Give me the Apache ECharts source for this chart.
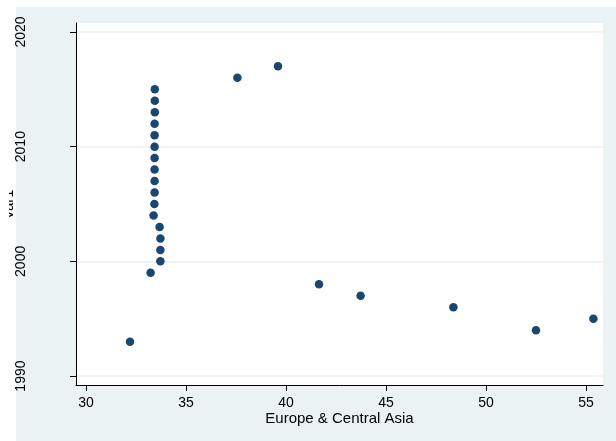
<!DOCTYPE html>
<html>
<head>
<meta charset="utf-8">
<script src="https://cdn.jsdelivr.net/npm/echarts@6/dist/echarts.min.js"></script>
<style>
html,body{margin:0;padding:0;background:#fff;}
#chart{width:616px;height:441px;}
</style>
</head>
<body>
<div id="chart"></div>
<script>
// var1 (year) values
const years = [1993,1994,1995,1996,1997,1998,1999,2000,2001,2002,2003,2004,2005,2006,2007,2008,2009,2010,2011,2012,2013,2014,2015,2016,2017];
// Europe & Central Asia values
const ecaValues = [32.2,52.5,55.37,48.37,43.73,41.65,33.23,33.72,33.72,33.72,33.68,33.38,33.42,33.43,33.43,33.43,33.43,33.43,33.43,33.43,33.44,33.44,33.44,37.57,39.6];
const xTicks = [30,35,40,45,50,55];
const yTicks = [1990,2000,2010,2020];
const xName = 'Europe & Central Asia';
const yName = 'var1';

const points = ecaValues.map((v,i)=>[v, years[i]]);
const font = 'Liberation Sans, Arial, sans-serif';

const chart = echarts.init(document.getElementById('chart'), null, {renderer:'canvas'});
chart.setOption({
  animation:false,
  backgroundColor:'#fff',
  graphic:[
    {type:'rect', z:-100, silent:true, shape:{x:16,y:7,width:600,height:434}, style:{fill:'#EAF2F3'}},
    {type:'rect', z:100, silent:true, shape:{x:0,y:180,width:9,height:50}, style:{fill:'#fff'}}
  ],
  grid:{left:76,right:13,top:23,bottom:56,show:true,backgroundColor:'#fff',borderWidth:0,containLabel:false,outerBoundsMode:'none'},
  xAxis:{
    type:'value', min:29.5, max:55.85,
    name:xName, nameLocation:'middle', nameGap:26, nameMoveOverlap:false,
    nameTextStyle:{fontFamily:font,fontSize:15,color:'#000'},
    axisLine:{show:true,onZero:false,lineStyle:{color:'#000',width:1}},
    axisTick:{show:true,customValues:xTicks,length:6,lineStyle:{color:'#000'}},
    axisLabel:{customValues:xTicks,fontFamily:font,fontSize:14,color:'#000',margin:11,formatter:v=>String(v)},
    splitLine:{show:false}
  },
  yAxis:{
    type:'value', min:1989.22, max:2020.78,
    name:yName, nameLocation:'middle', nameGap:60, nameRotate:90, nameMoveOverlap:false,
    nameTextStyle:{fontFamily:font,fontSize:15,color:'#000'},
    axisLine:{show:true,onZero:false,lineStyle:{color:'#000',width:1}},
    axisTick:{show:true,customValues:yTicks,length:6,lineStyle:{color:'#000'}},
    axisLabel:{customValues:yTicks,rotate:90,fontFamily:font,fontSize:14,color:'#000',margin:48,formatter:v=>String(v)},
    splitLine:{show:true,customValues:yTicks,lineStyle:{color:'#EAF2F3',width:1.5}}
  },
  series:[{
    type:'scatter',
    data:points,
    symbol:'circle',
    symbolSize:8.5,
    itemStyle:{color:'#1A476F',opacity:1}
  }]
});
</script>
</body>
</html>
